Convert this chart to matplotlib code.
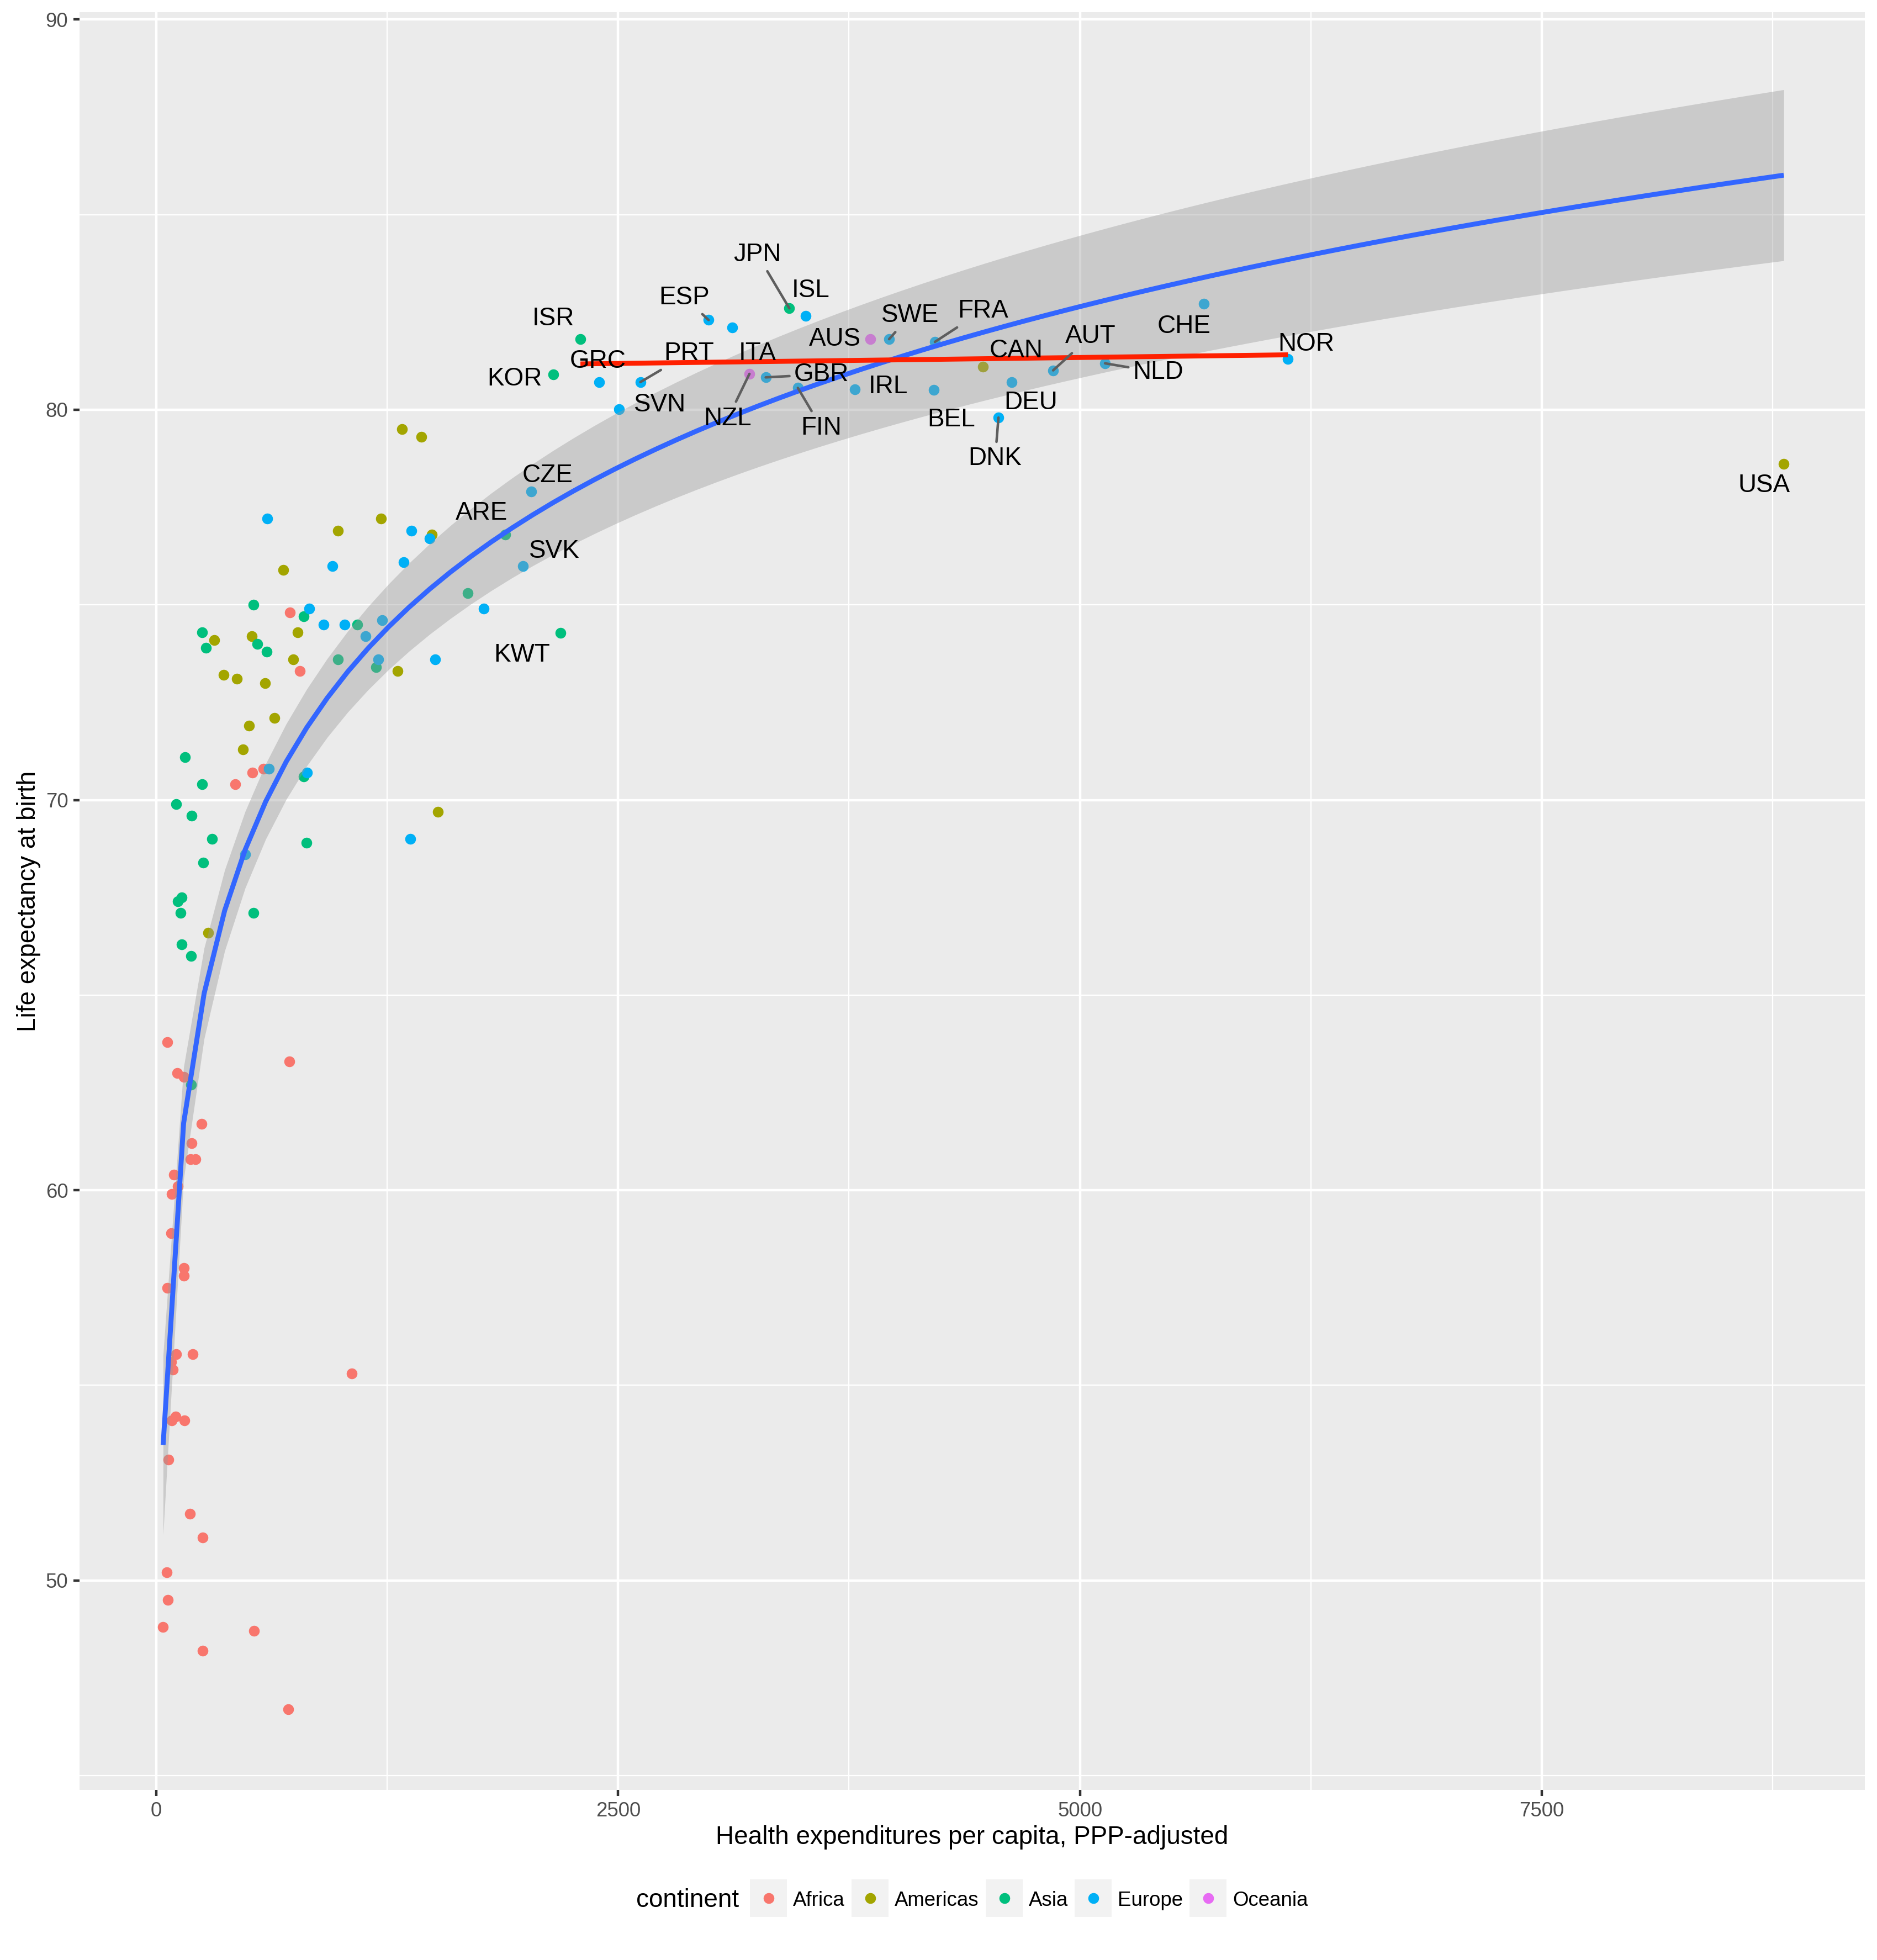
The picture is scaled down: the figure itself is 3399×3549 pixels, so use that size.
import numpy as np
import matplotlib
matplotlib.use('Agg')
import matplotlib.pyplot as plt
from matplotlib.patches import Rectangle
from matplotlib.lines import Line2D

plt.rcParams['font.family'] = ['Liberation Sans', 'DejaVu Sans']

# ---------------- data ----------------
continents = ['Africa', 'Americas', 'Asia', 'Europe', 'Oceania']
cont_colors = ['#F8766D', '#A3A500', '#00BF7D', '#00B0F6', '#E76BF3']

africa_x = [723, 778, 521, 580, 428, 60, 721, 115, 148, 244, 190, 184, 213, 96, 118, 85, 80,
            150, 148, 60, 108, 198, 80, 89, 1057, 105, 84, 152, 67, 181, 250, 58, 64, 37,
            528, 251, 713]
africa_y = [74.8, 73.3, 70.7, 70.8, 70.4, 63.8, 63.3, 63.0, 62.9, 61.7, 61.2, 60.8, 60.8, 60.4,
            60.1, 59.9, 58.9, 58.0, 57.8, 57.5, 55.8, 55.8, 55.6, 55.4, 55.3, 54.2, 54.1, 54.1,
            53.1, 51.7, 51.1, 50.2, 49.5, 48.8, 48.7, 48.2, 46.7]

americas_x = [984, 1216, 1492, 687, 315, 518, 765, 740, 1305, 366, 435, 588, 641, 501, 469,
              1524, 280, 1329, 1436]
americas_y = [76.9, 77.21, 76.8, 75.9, 74.1, 74.2, 74.3, 73.6, 73.3, 73.2, 73.1, 73.0, 72.1,
              71.9, 71.3, 69.7, 66.6, 79.51, 79.31]

asia_x = [1687, 525, 797, 1087, 249, 270, 547, 598, 984, 1190, 154, 798, 249, 109, 191, 303,
          812, 255, 138, 118, 132, 526, 137, 187, 188]
asia_y = [75.3, 75.0, 74.71, 74.5, 74.3, 73.9, 74.0, 73.8, 73.6, 73.4, 71.1, 70.6, 70.4, 69.9,
          69.6, 69.0, 68.9, 68.4, 67.5, 67.4, 67.1, 67.1, 66.3, 66.0, 62.7]

europe_x = [600, 1382, 1480, 955, 1340, 1773, 827, 907, 1018, 1222, 1134, 1201, 1511, 609,
            815, 1375, 481]
europe_y = [77.21, 76.9, 76.7, 76.0, 76.1, 74.9, 74.9, 74.5, 74.5, 74.6, 74.2, 73.6, 73.6,
            70.8, 70.7, 69.0, 68.6]

oceania_x = []
oceania_y = []

# labelled countries
lab_code = ['ARE', 'KWT', 'JPN', 'ISR', 'KOR', 'CAN', 'USA', 'CZE', 'SVK', 'ISL', 'ESP', 'ITA',
            'GRC', 'PRT', 'SVN', 'GBR', 'FIN', 'IRL', 'SWE', 'FRA', 'BEL', 'DEU', 'DNK', 'AUT',
            'NLD', 'CHE', 'NOR', 'AUS', 'NZL']
lab_x = [1890, 2189, 3427, 2296, 2149, 4476, 8810, 2029, 1986, 3515, 2990, 3118,
         2397, 2621, 2506, 3299, 3473, 3782, 3967, 4215, 4209, 4631, 4559, 4855,
         5136, 5672, 6126, 3865, 3211]
lab_y = [76.8, 74.28, 82.60, 81.81, 80.90, 81.11, 78.61, 77.90, 76.0, 82.41, 82.30, 82.11,
         80.71, 80.71, 80.01, 80.83, 80.56, 80.52, 81.81, 81.74, 80.51, 80.71, 79.80, 81.01,
         81.19, 82.71, 81.30, 81.81, 80.92]
lab_cont = ['Asia', 'Asia', 'Asia', 'Asia', 'Asia', 'Americas', 'Americas', 'Europe', 'Europe',
            'Europe', 'Europe', 'Europe', 'Europe', 'Europe', 'Europe', 'Europe', 'Europe',
            'Europe', 'Europe', 'Europe', 'Europe', 'Europe', 'Europe', 'Europe', 'Europe',
            'Europe', 'Europe', 'Oceania', 'Oceania']

# countries used for the red linear fit
red_subset = ['ISR', 'GRC', 'PRT', 'SVN', 'ESP', 'ITA', 'JPN', 'ISL', 'NZL', 'GBR', 'FIN',
              'IRL', 'AUS', 'SWE', 'FRA', 'BEL', 'CAN', 'DEU', 'DNK', 'AUT', 'NLD', 'CHE', 'NOR']

# ---------------- layout (label placement, repel-like) ----------------
label_pos = {
    'JPN': (3254, 84.05), 'ISL': (3542, 83.13), 'ESP': (2859, 82.95), 'ISR': (2149, 82.40),
    'GRC': (2392, 81.32), 'KOR': (1941, 80.86), 'PRT': (2885, 81.52), 'ITA': (3254, 81.52),
    'GBR': (3601, 80.98), 'SVN': (2728, 80.20), 'NZL': (3094, 79.85), 'FIN': (3601, 79.61),
    'IRL': (3961, 80.67), 'AUS': (3673, 81.88), 'SWE': (4081, 82.49), 'FRA': (4474, 82.61),
    'BEL': (4303, 79.82), 'CAN': (4655, 81.59), 'DEU': (4735, 80.25), 'DNK': (4541, 78.82),
    'AUT': (5056, 81.95), 'NLD': (5424, 81.03), 'CHE': (5563, 82.21), 'NOR': (6226, 81.75),
    'CZE': (2119, 78.38), 'ARE': (1762, 77.42), 'SVK': (2155, 76.45), 'KWT': (1979, 73.79),
    'USA': (8703, 78.13)}
with_segment = {'JPN', 'ESP', 'PRT', 'GBR', 'NZL', 'FIN', 'SWE', 'FRA', 'DNK', 'AUT', 'NLD'}

W, H = 3399, 3549
DPI = 300
fig = plt.figure(figsize=(W / DPI, H / DPI), dpi=DPI)
fig.patch.set_facecolor('white')
ax = fig.add_axes([144 / W, 1 - 3241 / H, (3377 - 144) / W, (3241 - 22) / H])
ax.set_facecolor('#EBEBEB')
for sp in ax.spines.values():
    sp.set_visible(False)

ax.set_xlim(-415.5, 9249)
ax.set_ylim(44.63, 90.19)
ax.set_xticks([0, 2500, 5000, 7500])
ax.set_xticks([1250, 3750, 6250, 8750], minor=True)
ax.set_yticks([50, 60, 70, 80, 90])
ax.set_yticks([45, 55, 65, 75, 85], minor=True)
ax.grid(which='major', color='white', lw=1.07)
ax.grid(which='minor', color='white', lw=0.53)
ax.set_axisbelow(True)
ax.tick_params(which='major', length=2.75, width=1.07, color='#333333',
               labelcolor='#4D4D4D', labelsize=8.8, pad=2.2)
ax.tick_params(which='minor', length=0)

# points
per_cont = {
    'Africa': (africa_x, africa_y), 'Americas': (americas_x, americas_y),
    'Asia': (asia_x, asia_y), 'Europe': (europe_x, europe_y), 'Oceania': (oceania_x, oceania_y)}
col = dict(zip(continents, cont_colors))
all_x, all_y = [], []
for c in continents:
    xs = list(per_cont[c][0]) + [x for x, k in zip(lab_x, lab_cont) if k == c]
    ys = list(per_cont[c][1]) + [y for y, k in zip(lab_y, lab_cont) if k == c]
    all_x += xs
    all_y += ys
    ax.scatter(xs, ys, s=22, color=col[c], linewidths=0, zorder=2)
all_x = np.array(all_x, float)
all_y = np.array(all_y, float)

# blue smooth: lm(y ~ log(x)) with 95% CI
lx = np.log(all_x)
n = len(lx)
A = np.vstack([np.ones(n), lx]).T
coef, *_ = np.linalg.lstsq(A, all_y, rcond=None)
res = all_y - A @ coef
s2 = np.sum(res ** 2) / (n - 2)
mlx = lx.mean()
sxx = np.sum((lx - mlx) ** 2)
df = n - 2
z = 1.959964
tq = z + (z ** 3 + z) / (4 * df) + (5 * z ** 5 + 16 * z ** 3 + 3 * z) / (96 * df ** 2)
xg = np.linspace(all_x.min(), all_x.max(), 80)
lg = np.log(xg)
pred = coef[0] + coef[1] * lg
se = np.sqrt(s2 * (1.0 / n + (lg - mlx) ** 2 / sxx))
ax.fill_between(xg, pred - tq * se, pred + tq * se, color='#999999', alpha=0.4, lw=0, zorder=3)
ax.plot(xg, pred, color='#3366FF', lw=2.13, zorder=4, solid_capstyle='butt')

# red linear fit on subset
rx = np.array([x for x, c in zip(lab_x, lab_code) if c in red_subset], float)
ry = np.array([y for y, c in zip(lab_y, lab_code) if c in red_subset], float)
b1, b0 = np.polyfit(rx, ry, 1)
rg = np.linspace(rx.min(), rx.max(), 80)
ax.plot(rg, b0 + b1 * rg, color='#FF2000', lw=2.13, zorder=5, solid_capstyle='butt')

# labels
for code, x, y in zip(lab_code, lab_x, lab_y):
    tx, ty = label_pos[code]
    if code in with_segment:
        ax.annotate(code, xy=(x, y), xytext=(tx, ty), textcoords='data', ha='center',
                    va='center_baseline', fontsize=11, color='black', zorder=7,
                    arrowprops=dict(arrowstyle='-', color='#5E5E5E', lw=1.1,
                                    shrinkA=0, shrinkB=0))
    else:
        ax.text(tx, ty, code, ha='center', va='center_baseline', fontsize=11,
                color='black', zorder=7)

# axis titles
fig.text(1760 / W, 1 - 3339 / H, 'Health expenditures per capita, PPP-adjusted',
         ha='center', va='baseline', fontsize=11, color='black')
fig.text(64 / W, 1 - 1632 / H, 'Life expectancy at birth', rotation=90,
         rotation_mode='anchor', ha='center', va='baseline', fontsize=11, color='black')

# legend (bottom, horizontal)
fig.text(1152 / W, 1 - 3453 / H, 'continent', ha='left', va='baseline', fontsize=11)
key_left = [1358, 1542, 1785, 1946, 2154]
for c, kl in zip(continents, key_left):
    fig.add_artist(Rectangle((kl / W, 1 - 3471 / H), 67 / W, 68 / H,
                             transform=fig.transFigure, facecolor='#F2F2F2',
                             edgecolor='none'))
    fig.add_artist(Line2D([(kl + 33.5) / W], [1 - 3437 / H], marker='o', markersize=4.69,
                          markeredgewidth=0, color=col[c], linestyle='none',
                          transform=fig.transFigure))
    fig.text((kl + 78) / W, 1 - 3451 / H, c, ha='left', va='baseline', fontsize=8.8)

fig.savefig('out.png', dpi=DPI, facecolor='white')
